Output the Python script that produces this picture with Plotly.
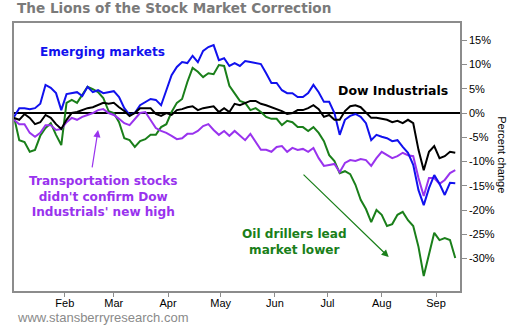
import pandas as pd
import plotly.graph_objects as go

# Sampling dates (every third calendar day through the 2015 correction)
dates = pd.date_range("2015-01-03", periods=85, freq="3D")

# Percent change since the start of the year
emerging = [
    -0.8, 1.0, 1.0, 0.8, 1.0, 1.9, 5.8, 5.2, 4.1, 0.6,
    3.9, 4.1, 4.3, 3.5, 5.4, 4.3, 4.7, 4.1, 4.3, 4.5,
    3.3, 1.0, -0.4, 0.0, 1.6, 2.3, 2.9, 2.7, 1.6, 4.7,
    7.8, 9.5, 10.5, 10.3, 11.8, 10.5, 12.8, 13.6, 14.0, 10.9,
    11.3, 9.7, 10.3, 9.7, 10.7, 10.5, 10.3, 10.1, 8.2, 6.2,
    6.2, 4.7, 4.1, 4.1, 3.3, 3.3, 4.1, 5.8, 4.3, 2.3,
    2.3, 0.0, -4.5, -1.4, -0.6, -0.2, -0.8, -2.1, -5.6, -4.5,
    -4.9, -5.2, -5.8, -5.6, -7.0, -8.2, -10.7, -15.9, -19.0, -15.5,
    -12.8, -14.6, -16.9, -14.4, -14.5,
]
dow = [
    -1.0, -1.4, -0.2, -1.0, -2.3, -1.9, -0.4, -1.0, -2.3, -3.3,
    -1.4, 0.0, 0.2, 0.6, 1.0, 1.2, 1.6, 2.1, 1.9, 2.1,
    1.2, 0.4, -0.6, 0.0, 1.0, 1.0, 1.0, -0.2, -0.6, 0.0,
    -0.4, 0.6, 0.8, 1.2, 1.4, 0.6, 1.0, 1.2, 1.4, 0.2,
    1.0, 0.2, 1.9, 1.6, 2.1, 2.5, 2.5, 1.9, 1.6, 1.2,
    0.8, 0.4, -0.2, 0.0, 0.6, 0.6, 1.0, 1.6, 0.8, -0.8,
    -0.4, -1.4, -1.4, 0.4, 1.4, 1.6, 1.2, 0.0, -1.0, -1.0,
    -1.2, -1.4, -1.9, -1.6, -2.1, -1.4, -2.1, -7.6, -11.8, -8.0,
    -6.8, -9.3, -8.9, -8.0, -8.2,
]
transports = [
    -1.4, -2.3, -2.3, -4.1, -4.9, -4.1, -2.5, -2.5, -3.5, -3.3,
    -1.9, -1.0, -1.4, -0.8, -0.4, 0.0, 0.6, 0.8, 0.0, -0.4,
    -1.2, -2.1, -2.5, -1.2, 0.0, 0.2, -1.6, -3.1, -3.7, -4.1,
    -4.7, -5.4, -5.2, -4.3, -4.3, -3.7, -2.7, -2.3, -3.5, -4.5,
    -3.7, -4.7, -3.7, -4.7, -5.6, -4.3, -6.0, -7.6, -7.6, -8.0,
    -7.0, -6.8, -8.0, -7.2, -7.6, -7.4, -8.0, -7.2, -9.3, -10.9,
    -10.7, -10.5, -12.2, -10.3, -9.7, -9.9, -9.5, -9.7, -10.9, -9.3,
    -8.0, -8.7, -9.3, -8.9, -8.2, -8.7, -8.9, -13.4, -17.1, -13.4,
    -13.4, -14.6, -13.8, -12.4, -11.8,
]
oil_drillers = [
    -0.8, -5.6, -6.0, -8.0, -7.6, -4.7, -3.1, -2.1, -4.5, -6.6,
    2.1, 2.7, 2.1, 3.9, 5.4, 4.9, 4.3, 3.1, 0.4, 0.0,
    -1.9, -5.2, -5.6, -7.0, -5.8, -5.4, -4.5, -4.5, -2.9, -2.3,
    0.2, 2.1, 2.9, 6.4, 9.3, 8.5, 7.4, 8.2, 8.0, 9.9,
    9.7, 5.6, 4.1, 2.5, 2.1, 0.6, 1.0, 0.2, -0.8, -1.2,
    -1.2, -2.5, -1.6, -1.9, -2.9, -2.9, -3.7, -2.9, -4.1, -5.8,
    -8.7, -9.9, -12.4, -12.0, -12.6, -14.8, -17.9, -19.8, -22.5, -20.0,
    -21.0, -23.3, -22.9, -21.0, -20.4, -22.1, -23.3, -27.6, -33.6, -29.3,
    -24.7, -26.2, -25.8, -26.2, -29.9,
]

month_ticks = ["2015-02-01", "2015-03-01", "2015-04-01", "2015-05-01",
               "2015-06-01", "2015-07-01", "2015-08-01", "2015-09-01"]
month_labels = ["Feb", "Mar", "Apr", "May", "Jun", "Jul", "Aug", "Sep"]
pct_ticks = [-30, -25, -20, -15, -10, -5, 0, 5, 10, 15]
pct_labels = ["-30%", "-25%", "-20%", "-15%", "-10%", "-5%", "0%", "5%", "10%", "15%"]

BLUE = "#1111ee"
GREEN = "#1a7f1a"
PURPLE = "#9933ee"
BLACK = "#000000"
BOLD = "DejaVu Sans"

fig = go.Figure()
for name, vals, color in [
    ("Oil drillers", oil_drillers, GREEN),
    ("Transportation", transports, PURPLE),
    ("Emerging markets", emerging, BLUE),
    ("Dow Industrials", dow, BLACK),
]:
    fig.add_trace(go.Scatter(x=dates, y=vals, mode="lines", name=name,
                             line=dict(color=color, width=2), hoverinfo="skip"))

fig.update_layout(
    width=510, height=325,
    margin=dict(l=14, r=50, t=23, b=34),
    paper_bgcolor="white", plot_bgcolor="white",
    showlegend=False,
    font=dict(family="Liberation Sans, Arial", size=11, color="black"),
)
fig.update_xaxes(
    range=["2015-01-03", "2015-09-14 17:00"],
    tickvals=month_ticks, ticktext=month_labels,
    showgrid=False, zeroline=False,
    showline=True, linecolor="#8c8c8c", linewidth=1.5, mirror=True,
    ticks="outside", ticklen=4, tickcolor="#8c8c8c",
    ticklabelstandoff=-3,
)
fig.update_yaxes(
    range=[-36.7, 18.56], side="right",
    tickvals=pct_ticks, ticktext=pct_labels,
    showgrid=False,
    zeroline=True, zerolinecolor="black", zerolinewidth=1.5,
    showline=True, linecolor="#8c8c8c", linewidth=1.5, mirror=True,
    ticks="outside", ticklen=5, tickcolor="#8c8c8c",
)


def note(text, x, y, size, color, family=BOLD, **kw):
    fig.add_annotation(text=text, xref="paper", yref="paper", x=x, y=y,
                       xanchor=kw.pop("xanchor", "center"), yanchor="middle",
                       showarrow=False, font=dict(family=family, size=size, color=color),
                       **kw)


# Chart title and source line
note("<b>The Lions of the Stock Market Correction</b>", 0.002, 1.056, 13.6, "#7a7a7a",
     xanchor="left")
note("www.stansberryresearch.com", 0.002, -0.10, 13, "#8a8a8a",
     family="Liberation Sans, Arial", xanchor="left")
note("Percent change", 1.094, 0.507, 11, "black",
     family="Liberation Sans, Arial", textangle=90)

# Series labels
note("<b>Emerging markets</b>", 0.198, 0.892, 12.1, BLUE)
note("<b>Dow Industrials</b>", 0.850, 0.750, 12.5, BLACK)
note("<b>Transportation stocks<br>didn't confirm Dow<br>Industrials' new high</b>",
     0.1996, 0.351, 12.1, PURPLE, align="center")
note("<b>Oil drillers lead<br>market lower</b>", 0.630, 0.181, 12.1, GREEN, align="center")

# Pointer arrows
fig.add_annotation(x="2015-02-20", y=-3.5, ax="2015-02-16 12:00", ay=-11.5,
                   xref="x", yref="y", axref="x", ayref="y", text="",
                   showarrow=True, arrowhead=2, arrowsize=1.2, arrowwidth=1.2,
                   arrowcolor=PURPLE)
fig.add_annotation(x="2015-08-05", y=-29.7, ax="2015-06-16 12:00", ay=-12.4,
                   xref="x", yref="y", axref="x", ayref="y", text="",
                   showarrow=True, arrowhead=2, arrowsize=1.2, arrowwidth=1.2,
                   arrowcolor=GREEN)

fig.write_html("out.html")
